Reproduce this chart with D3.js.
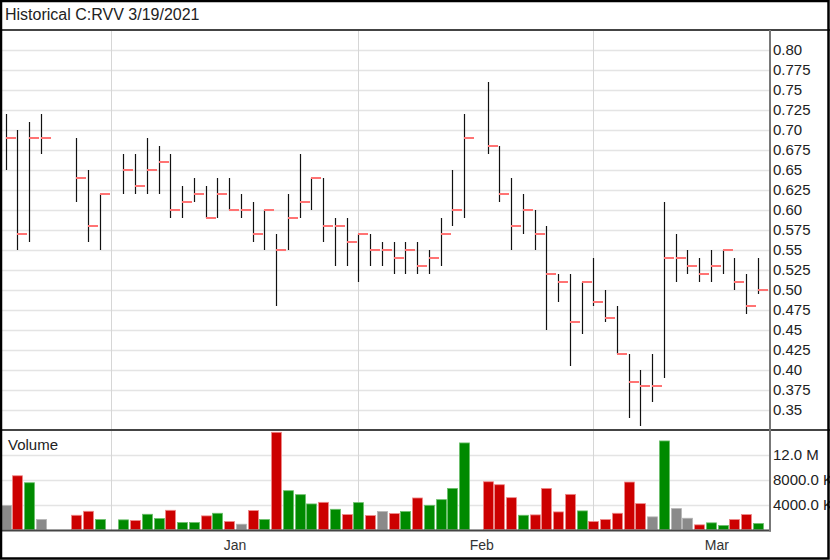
<!DOCTYPE html>
<html>
<head>
<meta charset="utf-8">
<script src="https://cdn.jsdelivr.net/npm/d3@7"></script>
<style>
html,body{margin:0;padding:0;background:#fff;}
svg{display:block;font-family:"Liberation Sans",Arial,sans-serif;}
</style>
</head>
<body>
<svg id="chart" width="830" height="560"></svg>
<script>
// ---- data ----
const title = "Historical C:RVV 3/19/2021";
const dates = ["2020-12-21","2020-12-22","2020-12-23","2020-12-24","2020-12-29","2020-12-30","2020-12-31",
"2021-01-04","2021-01-05","2021-01-06","2021-01-07","2021-01-08","2021-01-11","2021-01-12","2021-01-13","2021-01-14","2021-01-15",
"2021-01-18","2021-01-19","2021-01-20","2021-01-21","2021-01-22","2021-01-25","2021-01-26","2021-01-27","2021-01-28","2021-01-29",
"2021-02-01","2021-02-02","2021-02-03","2021-02-04","2021-02-05","2021-02-08","2021-02-09","2021-02-10","2021-02-11","2021-02-12",
"2021-02-16","2021-02-17","2021-02-18","2021-02-19","2021-02-22","2021-02-23","2021-02-24","2021-02-25","2021-02-26",
"2021-03-01","2021-03-02","2021-03-03","2021-03-04","2021-03-05","2021-03-08","2021-03-09","2021-03-10","2021-03-11","2021-03-12",
"2021-03-15","2021-03-16","2021-03-17","2021-03-18","2021-03-19"];
const highs = [0.72,0.70,0.71,0.72,0.69,0.65,0.62,
0.67,0.67,0.69,0.68,0.67,0.63,0.64,0.63,0.64,0.64,
0.62,0.61,0.60,0.57,0.62,0.67,0.64,0.64,0.59,0.59,
0.57,0.57,0.56,0.56,0.56,0.56,0.55,0.59,0.65,0.72,
0.76,0.68,0.64,0.62,0.60,0.58,0.52,0.52,0.51,
0.54,0.50,0.48,0.42,0.40,0.42,0.61,0.57,0.55,0.54,
0.55,0.55,0.54,0.52,0.54];
const lows = [0.65,0.55,0.56,0.67,0.61,0.56,0.55,
0.62,0.62,0.62,0.62,0.59,0.59,0.61,0.59,0.59,0.60,
0.59,0.56,0.55,0.48,0.55,0.59,0.60,0.56,0.53,0.53,
0.51,0.53,0.53,0.52,0.52,0.52,0.52,0.53,0.58,0.59,
0.67,0.61,0.55,0.57,0.55,0.45,0.485,0.405,0.445,
0.48,0.46,0.42,0.34,0.33,0.36,0.39,0.51,0.52,0.51,
0.51,0.52,0.50,0.47,0.495];
const closes = [0.69,0.57,0.69,0.69,0.64,0.58,0.62,
0.65,0.63,0.65,0.66,0.60,0.61,0.62,0.59,0.62,0.60,
0.60,0.57,0.60,0.55,0.59,0.61,0.64,0.58,0.58,0.56,
0.57,0.55,0.55,0.54,0.55,0.53,0.54,0.57,0.60,0.69,
0.68,0.62,0.58,0.60,0.57,0.52,0.51,0.46,0.51,
0.485,0.465,0.42,0.385,0.38,0.38,0.54,0.54,0.53,0.52,
0.53,0.55,0.51,0.48,0.50];
const volumes = [3.84,8.64,7.52,1.6,2.29,2.93,1.6,
1.55,1.44,2.45,1.76,3.09,1.12,1.12,2.19,2.61,1.28,
0.85,3.04,1.6,15.63,6.24,5.6,4.11,4.37,3.25,2.4,
4.32,2.24,2.88,2.56,2.88,5.07,3.89,4.8,6.61,13.92,
7.68,7.2,5.12,2.29,2.35,6.61,2.83,5.65,2.99,
1.28,1.6,2.61,7.63,4.16,2.03,14.24,3.36,1.81,0.75,
1.07,0.64,1.6,2.4,0.96].map(v => v * 1e6);
const volDir = ["flat","down","up","flat","down","down","up",
"up","down","up","up","down","up","up","down","up","down",
"flat","down","up","down","up","up","up","down","up","down",
"up","down","flat","down","up","down","up","up","up","up",
"down","down","down","up","down","down","down","down","up",
"down","down","down","down","down","flat","up","flat","flat","down",
"up","up","down","down","up"];
const priceTicks = [0.35,0.375,0.40,0.425,0.45,0.475,0.50,0.525,0.55,0.575,0.60,0.625,0.65,0.675,0.70,0.725,0.75,0.775,0.80];
const priceTickLabels = ["0.35","0.375","0.40","0.425","0.45","0.475","0.50","0.525","0.55","0.575","0.60","0.625","0.65","0.675","0.70","0.725","0.75","0.775","0.80"];
const volTicks = [4e6, 8e6, 12e6];
const volTickLabels = ["4000.0 K","8000.0 K","12.0 M"];
const months = ["2021-01-01","2021-02-01","2021-03-01"];
const monthLabels = ["Jan","Feb","Mar"];

// ---- layout ----
const W = 830, H = 560;
const plotRight = 770;
const svg = d3.select("#chart");
const fmt = d3.timeFormat("%Y-%m-%d");
// all weekdays (trading-day slots, holidays shown as gaps)
const slots = d3.timeDay.range(new Date(2020,11,21), new Date(2021,2,20))
  .filter(d => d.getDay() !== 0 && d.getDay() !== 6).map(fmt);
const x = d3.scalePoint().domain(slots).range([5.7, 758]);
const step = x.step();
const yP = d3.scaleLinear().domain([0.325, 0.825]).range([430, 30]);
const yV = d3.scaleLinear().domain([0, 16e6]).range([529.5, 430]);

const data = dates.map((d,i)=>({d, h:highs[i], l:lows[i], c:closes[i], v:volumes[i], dir:volDir[i]}));

svg.append("rect").attr("width",W).attr("height",H).attr("fill","#fff");

// grids
const g = svg.append("g");
g.selectAll(".hp").data(priceTicks).join("line")
  .attr("x1",0).attr("x2",plotRight)
  .attr("y1",d=>Math.round(yP(d))+0.5).attr("y2",d=>Math.round(yP(d))+0.5)
  .attr("stroke","#e4e4e4").attr("stroke-width",1.3);
g.selectAll(".hv").data(volTicks).join("line")
  .attr("x1",0).attr("x2",plotRight)
  .attr("y1",d=>Math.round(yV(d))+0.5).attr("y2",d=>Math.round(yV(d))+0.5)
  .attr("stroke","#e4e4e4").attr("stroke-width",1.3);
g.selectAll(".vm").data(months).join("line")
  .attr("x1",d=>Math.round(x(d))+0.5).attr("x2",d=>Math.round(x(d))+0.5)
  .attr("y1",30).attr("y2",530)
  .attr("stroke","#d6d6d6").attr("stroke-width",1);

// OHLC bars
const ob = svg.append("g");
ob.selectAll("line.hl").data(data).join("line").attr("class","hl")
  .attr("x1",d=>Math.round(x(d.d))+0.5).attr("x2",d=>Math.round(x(d.d))+0.5)
  .attr("y1",d=>yP(d.h)).attr("y2",d=>yP(d.l))
  .attr("stroke","#111").attr("stroke-width",1.2);
ob.selectAll("line.cl").data(data).join("line").attr("class","cl")
  .attr("x1",d=>Math.round(x(d.d))).attr("x2",d=>Math.round(x(d.d))+10)
  .attr("y1",d=>yP(d.c)).attr("y2",d=>yP(d.c))
  .attr("stroke","#ff7373").attr("stroke-width",2);

// volume bars
const fillC = {up:"#008a00", down:"#cc0000", flat:"#8a8a8a"};
const strokeC = {up:"#6cbf6c", down:"#ee8a8a", flat:"#b5b5b5"};
svg.append("g").selectAll("rect").data(data).join("rect")
  .attr("x",d=>Math.round(x(d.d))-4.5).attr("width",10)
  .attr("y",d=>yV(d.v)).attr("height",d=>529.5-yV(d.v))
  .attr("fill",d=>fillC[d.dir]).attr("stroke",d=>strokeC[d.dir]).attr("stroke-width",0.8);

// frame lines
svg.append("line").attr("x1",0).attr("x2",W).attr("y1",30).attr("y2",30).attr("stroke","#444").attr("stroke-width",2);
svg.append("line").attr("x1",0).attr("x2",W).attr("y1",430).attr("y2",430).attr("stroke","#444").attr("stroke-width",2);
svg.append("line").attr("x1",0).attr("x2",plotRight+1).attr("y1",530.5).attr("y2",530.5).attr("stroke","#444").attr("stroke-width",2);
svg.append("line").attr("x1",plotRight).attr("x2",plotRight).attr("y1",30).attr("y2",531.5).attr("stroke","#777").attr("stroke-width",2);

// right axis labels
svg.append("g").selectAll("text").data(priceTicks).join("text")
  .attr("x",773).attr("y",d=>yP(d)).attr("dy","0.36em")
  .attr("font-size",15).attr("fill","#222")
  .text((d,i)=>priceTickLabels[i]);
svg.append("g").selectAll("text").data(volTicks).join("text")
  .attr("x",773).attr("y",d=>yV(d)).attr("dy","0.36em")
  .attr("font-size",15).attr("fill","#222")
  .text((d,i)=>volTickLabels[i]);

// month labels
svg.append("g").selectAll("text").data(months).join("text")
  .attr("x",d=>x(d)+10.5*step).attr("y",550).attr("text-anchor","middle")
  .attr("font-size",14).attr("fill","#333")
  .text((d,i)=>monthLabels[i]);

// titles
svg.append("text").attr("x",5).attr("y",20).attr("font-size",16).attr("fill","#222").text(title);
svg.append("text").attr("x",8).attr("y",450).attr("font-size",15).attr("fill","#222").text("Volume");

// outer frame
svg.append("rect").attr("x",1).attr("y",1).attr("width",W-2.5).attr("height",H-2.5)
  .attr("fill","none").attr("stroke","#000").attr("stroke-width",2.5);
</script>
</body>
</html>
